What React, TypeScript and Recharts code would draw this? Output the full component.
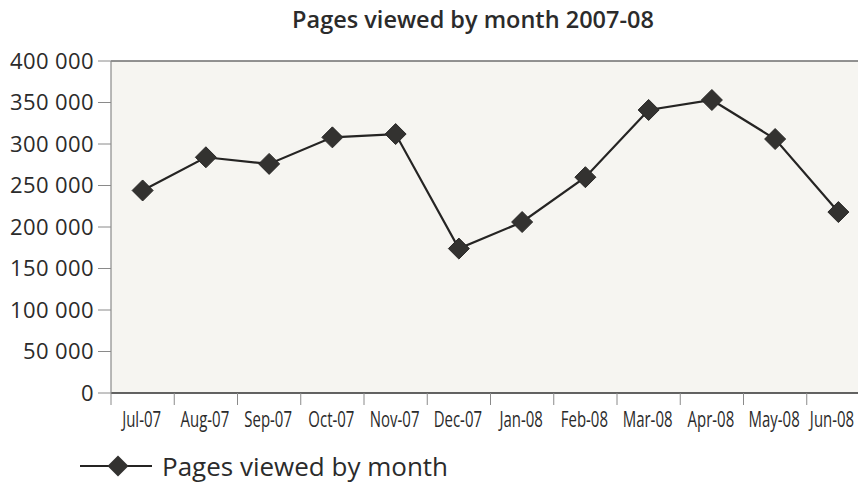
import React from "react";
import { LineChart, Line, XAxis, YAxis, CartesianGrid, ReferenceLine } from "recharts";

const months = [
  "Jul-07", "Aug-07", "Sep-07", "Oct-07", "Nov-07", "Dec-07",
  "Jan-08", "Feb-08", "Mar-08", "Apr-08", "May-08", "Jun-08",
];
const pagesViewed = [
  244000, 284000, 276000, 308000, 312000, 174000,
  206000, 260000, 341000, 353000, 306000, 218000,
];
const yTicks = [0, 50000, 100000, 150000, 200000, 250000, 300000, 350000, 400000];
const seriesName = "Pages viewed by month";
const chartTitle = "Pages viewed by month 2007-08";

const data = months.map((m, i) => ({ month: m, pages: pagesViewed[i] }));

const VIEW_W = 858;
const CHART_W = 870;
const AXIS_W = 111;
const BAND = (CHART_W - AXIS_W) / months.length;
const FONT = "'Open Sans', 'Noto Sans', sans-serif";
const X_SQUEEZE = 0.68;
const LABEL_HALF = 23;

const fmt = (v: number) => String(v).replace(/\B(?=(\d{3})+(?!\d))/g, " ");

const Diamond = (props: any) => {
  const { cx, cy, index } = props;
  if (cx == null || cy == null) return null;
  const r = 10.5;
  return (
    <polygon
      key={`d-${index}`}
      points={`${cx},${cy - r} ${cx + r},${cy} ${cx},${cy + r} ${cx - r},${cy}`}
      fill="#333230"
      stroke="#2a2928"
      strokeWidth={1}
    />
  );
};

const MonthTick = (props: any) => {
  const { x, y, payload } = props;
  // keep the last label inside the visible area, like the reference
  const cx = Math.min(x - 1, VIEW_W - 3 - LABEL_HALF);
  return (
    <g>
      <line x1={x - BAND / 2} y1={y} x2={x - BAND / 2} y2={y + 12} stroke="#8a8a8a" strokeWidth={1} />
      <g transform={`translate(${cx},${y + 34})`}>
        <text
          transform={`scale(${X_SQUEEZE},1)`}
          textAnchor="middle"
          fill="#2b2b2b"
          fontSize={22}
          fontFamily={FONT}
        >
          {payload.value}
        </text>
      </g>
    </g>
  );
};

export default function App() {
  return (
    <div
      style={{
        position: "absolute",
        left: 0,
        top: 0,
        width: VIEW_W,
        height: 491,
        overflow: "hidden",
        background: "#ffffff",
        fontFamily: FONT,
      }}
    >
      <div
        style={{
          position: "absolute",
          left: 0,
          top: 3,
          width: 946,
          textAlign: "center",
          fontSize: 23.5,
          fontWeight: 600,
          color: "#2b2b2b",
        }}
      >
        {chartTitle}
      </div>

      <div style={{ position: "absolute", left: 0, top: 0 }}>
        <LineChart
          width={CHART_W}
          height={491}
          data={data}
          margin={{ top: 61, right: 0, left: 0, bottom: 68 }}
        >
          <CartesianGrid fill="#f6f5f1" horizontal={false} vertical={false} />
          <XAxis
            dataKey="month"
            height={30}
            padding={{ left: BAND / 2, right: BAND / 2 }}
            axisLine={{ stroke: "#2f2f2f", strokeWidth: 1.5 }}
            tickLine={false}
            tickSize={0}
            tickMargin={0}
            interval={0}
            tick={<MonthTick />}
          />
          <YAxis
            width={AXIS_W}
            domain={[0, 400000]}
            ticks={yTicks}
            interval={0}
            tickFormatter={fmt}
            axisLine={{ stroke: "#8a8a8a", strokeWidth: 1.2 }}
            tickLine={{ stroke: "#8a8a8a", strokeWidth: 1 }}
            tickSize={13}
            tickMargin={4}
            tick={{ fill: "#2b2b2b", fontSize: 22, fontFamily: FONT, letterSpacing: 0.4 }}
          />
          <ReferenceLine y={400000} stroke="#6e6e6e" strokeWidth={1.5} />
          <Line
            type="linear"
            dataKey="pages"
            name={seriesName}
            stroke="#252423"
            strokeWidth={2.2}
            dot={Diamond}
            activeDot={false}
            isAnimationActive={false}
          />
        </LineChart>
      </div>

      <div
        style={{
          position: "absolute",
          left: 80,
          top: 448,
          display: "flex",
          alignItems: "center",
          gap: 10,
          fontSize: 26,
          color: "#2b2b2b",
        }}
      >
        <svg width={72} height={24}>
          <line x1={0} y1={12} x2={72} y2={12} stroke="#252423" strokeWidth={2.2} />
          <polygon points="38,1.5 48.5,12 38,22.5 27.5,12" fill="#333230" />
        </svg>
        <span>{seriesName}</span>
      </div>
    </div>
  );
}
